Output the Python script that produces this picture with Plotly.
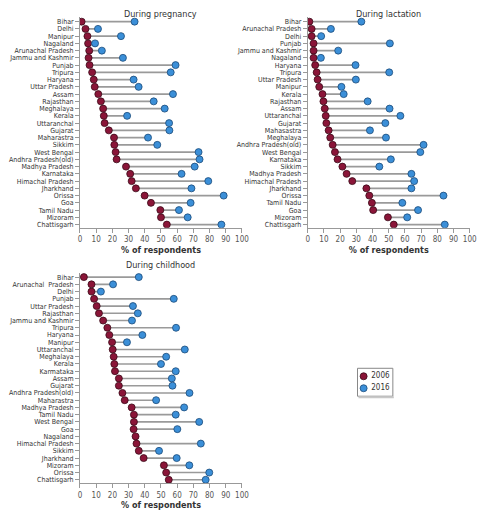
import plotly.graph_objects as go

# ---------------- data ----------------
preg_states = ["Bihar", "Delhi", "Manipur", "Nagaland", "Arunachal Pradesh", "Jammu and Kashmir",
               "Punjab", "Tripura", "Haryana", "Uttar Pradesh", "Assam", "Rajasthan", "Meghalaya",
               "Kerala", "Uttaranchal", "Gujarat", "Maharastra", "Sikkim", "West Bengal",
               "Andhra Pradesh(old)", "Madhya Pradesh", "Karnataka", "Himachal Pradesh", "Jharkhand",
               "Orissa", "Goa", "Tamil Nadu", "Mizoram", "Chattisgarh"]
preg_2006 = [1.0, 3.4, 4.6, 5.0, 5.7, 5.3, 5.9, 7.5, 8.5, 9.1, 11.3, 12.9, 14.3, 14.7, 15.2, 17.8,
             21.0, 21.2, 22.0, 22.6, 28.4, 31.0, 31.9, 34.5, 39.9, 43.8, 49.6, 50.0, 53.6]
preg_2016 = [33.7, 11.1, 25.3, 9.3, 13.5, 26.5, 59.0, 56.0, 33.1, 36.2, 57.4, 45.5, 52.3, 29.1,
             55.0, 55.2, 42.0, 47.7, 73.2, 73.8, 70.8, 62.7, 79.2, 68.8, 88.7, 68.3, 61.1, 66.5, 87.3]

lact_states = ["Bihar", "Arunachal Pradesh", "Delhi", "Punjab", "Jammu and Kashmir", "Nagaland",
               "Haryana", "Tripura", "Uttar Pradesh", "Manipur", "Kerala", "Rajasthan", "Assam",
               "Uttaranchal", "Gujarat", "Mahasastra", "Meghalaya", "Andhra Pradesh(old)",
               "West Bengal", "Karnataka", "Sikkim", "Madhya Pradesh", "Himachal Pradesh",
               "Jharkhand", "Orissa", "Tamil Nadu", "Goa", "Mizoram", "Chattisgarh"]
lact_2006 = [1.0, 2.4, 2.4, 3.6, 3.6, 3.6, 4.6, 5.5, 6.1, 7.1, 9.1, 9.7, 10.5, 11.1, 11.5, 12.9,
             13.9, 15.4, 16.8, 18.4, 21.4, 24.0, 27.5, 36.2, 38.0, 39.6, 40.4, 49.5, 53.1]
lact_2016 = [33.1, 14.3, 8.3, 50.7, 18.8, 8.1, 29.5, 50.3, 29.7, 20.8, 22.2, 37.0, 50.5, 57.2,
             47.9, 38.4, 48.3, 71.5, 69.5, 51.3, 44.2, 64.0, 65.7, 64.0, 83.8, 58.4, 68.1, 61.4, 84.6]

child_states = ["Bihar", "Arunachal  Pradesh", "Delhi", "Punjab", "Uttar Pradesh", "Rajasthan",
                "Jammu and Kashmir", "Tripura", "Haryana", "Manipur", "Uttaranchal", "Meghalaya",
                "Kerala", "Karmataka", "Assam", "Gujarat", "Andhra Pradesh(old)", "Maharastra",
                "Madhya Pradesh", "Tamil Nadu", "West Bengal", "Goa", "Nagaland", "Himachal Pradesh",
                "Sikkim", "Jharkhand", "Mizoram", "Orissa", "Chattisgarh"]
child_2006 = [2.4, 7.1, 7.1, 8.7, 10.3, 11.7, 14.3, 16.9, 18.1, 19.8, 20.2, 20.8, 21.2, 21.6,
              24.0, 24.0, 26.2, 27.6, 31.9, 33.3, 33.3, 33.1, 34.3, 34.9, 36.3, 39.3, 51.8, 53.2, 54.8]
child_2016 = [36.3, 20.4, 12.9, 57.9, 32.7, 35.7, 32.1, 59.3, 38.5, 29.0, 64.7, 53.2, 50.0, 59.1,
              56.7, 57.1, 67.6, 47.0, 64.3, 59.1, 73.6, 60.1, None, 74.6, 48.8, 59.7, 67.5, 79.8, 77.6]

panel_titles = ["During pregnancy", "During lactation", "During childhood"]
x_ticks = [0, 10, 20, 30, 40, 50, 60, 70, 80, 90, 100]
year_labels = ["2006", "2016"]
axis_title = "% of respondents"

# ---------------- style ----------------
OFF = 8  # default page body margin
W, H = 499 - OFF, 516 - OFF
FONT = "Liberation Sans Narrow, DejaVu Sans Condensed, Arial Narrow, sans-serif"
RED = "#8a1538"
BLUE = "#3b8fd8"
LINE = "#9a9a9a"
COLORS = [RED, BLUE]
EDGES = ["#3a0a18", "#1b4a78"]

def px_x(v):
    return (v - OFF) / W

def px_y(v):
    return 1 - (v - OFF) / H

# pixel geometry of the three panels in the final page: (left, right, top, bottom)
panels_px = [(79.3, 244.3, 17.3, 228.3), (311.3, 476.3, 17.3, 228.3), (79.3, 244.3, 273.3, 484.0)]
title_y_px = [14.0, 14.0, 265.5]

fig = go.Figure()
datasets = [(preg_states, preg_2006, preg_2016),
            (lact_states, lact_2006, lact_2016),
            (child_states, child_2006, child_2016)]

for k, (states, v06, v16) in enumerate(datasets):
    xa = "x" if k == 0 else f"x{k+1}"
    ya = "y" if k == 0 else f"y{k+1}"
    idx = list(range(len(states)))
    lx, ly = [], []
    for i in idx:
        if v16[i] is None:
            continue
        lx += [v06[i], v16[i], None]
        ly += [i, i, None]
    fig.add_trace(go.Scatter(x=lx, y=ly, mode="lines", line=dict(color=LINE, width=1.6),
                             xaxis=xa, yaxis=ya, showlegend=False, hoverinfo="skip"))
    fig.add_trace(go.Scatter(x=v06, y=idx, mode="markers", name=year_labels[0],
                             marker=dict(color=RED, size=7, line=dict(color=EDGES[0], width=0.8)),
                             xaxis=xa, yaxis=ya, showlegend=False))
    bx = [v for v in v16 if v is not None]
    by = [i for i in idx if v16[i] is not None]
    fig.add_trace(go.Scatter(x=bx, y=by, mode="markers", name=year_labels[1],
                             marker=dict(color=BLUE, size=7, line=dict(color=EDGES[1], width=0.8)),
                             xaxis=xa, yaxis=ya, showlegend=False))

    l, r, t, b = panels_px[k]
    xkey = "xaxis" if k == 0 else f"xaxis{k+1}"
    ykey = "yaxis" if k == 0 else f"yaxis{k+1}"
    fig.update_layout(**{
        xkey: dict(domain=[px_x(l), px_x(r)], range=[0, 100], tickvals=x_ticks,
                   ticks="outside", ticklen=4, tickcolor="#999", showline=True,
                   linecolor="#999", linewidth=1, showgrid=False, zeroline=False,
                   tickfont=dict(family=FONT, size=8, color="#555"),
                   title=dict(text="<b>" + axis_title + "</b>", standoff=3,
                              font=dict(family=FONT, size=9, color="#333")),
                   anchor=ya, fixedrange=True),
        ykey: dict(domain=[px_y(b), px_y(t)], range=[len(states) - 1 + 0.45, -0.6],
                   tickvals=idx, ticktext=states, ticks="outside", ticklen=4,
                   tickcolor="#999", showline=True, linecolor="#999", linewidth=1,
                   showgrid=False, zeroline=False,
                   tickfont=dict(family=FONT, size=7, color="#333"),
                   anchor=xa, fixedrange=True),
    })
    fig.add_annotation(text=panel_titles[k], x=px_x((l + r) / 2), y=px_y(title_y_px[k]),
                       xref="paper", yref="paper", showarrow=False,
                       xanchor="center", yanchor="middle",
                       font=dict(family=FONT, size=9, color="#333"))

# ---- legend (small dedicated axis) ----
leg = (362.0, 398.0, 369.0, 397.0)
fig.add_shape(type="rect", xref="paper", yref="paper",
              x0=px_x(leg[0]), x1=px_x(leg[1]), y0=px_y(leg[3]), y1=px_y(leg[2]),
              line=dict(color="#888", width=1), fillcolor="white", layer="below")
fig.add_shape(type="line", xref="paper", yref="paper",
              x0=px_x(leg[0] + 1), x1=px_x(leg[1] + 1), y0=px_y(leg[3] + 1), y1=px_y(leg[3] + 1),
              line=dict(color="#c8c8c8", width=2))
for j, lab in enumerate(year_labels):
    fig.add_trace(go.Scatter(x=[0], y=[j], mode="markers+text", text=[" " + lab],
                             textposition="middle right", cliponaxis=False,
                             textfont=dict(family=FONT, size=8, color="#333"),
                             marker=dict(color=COLORS[j], size=7, line=dict(color=EDGES[j], width=0.8)),
                             xaxis="x4", yaxis="y4", showlegend=False, hoverinfo="skip"))
fig.update_layout(
    xaxis4=dict(domain=[px_x(leg[0] + 3), px_x(leg[1] - 3)], range=[-0.6, 5], visible=False,
                anchor="y4", fixedrange=True),
    yaxis4=dict(domain=[px_y(leg[3] - 2), px_y(leg[2] + 2)], range=[1.5, -0.5], visible=False,
                anchor="x4", fixedrange=True),
)

fig.update_layout(
    width=W, height=H, margin=dict(l=0, r=0, t=0, b=0),
    paper_bgcolor="white", plot_bgcolor="white", showlegend=False,
)

fig.write_html("out.html")
